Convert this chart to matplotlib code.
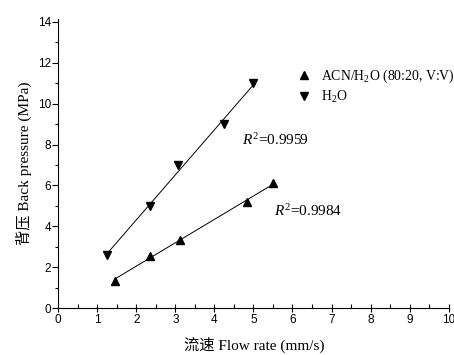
import numpy as np
import matplotlib.pyplot as plt
from matplotlib.ticker import MultipleLocator

# 数据
flow_acn = [1.45, 2.35, 3.12, 4.83, 5.5]
bp_acn = [1.35, 2.55, 3.35, 5.2, 6.1]
flow_h2o = [1.25, 2.35, 3.07, 4.25, 5.0]
bp_h2o = [2.6, 5.0, 7.0, 9.0, 11.0]
r2_acn = '0.9984'
r2_h2o = '0.9959'

serif = ['Liberation Serif', 'Noto Sans CJK SC']
plt.rcParams['font.family'] = ['Liberation Sans', 'DejaVu Sans']
plt.rcParams['mathtext.fontset'] = 'custom'
plt.rcParams['mathtext.it'] = 'Liberation Serif:italic'
plt.rcParams['mathtext.rm'] = 'Liberation Serif'

fig = plt.figure(figsize=(4.54, 3.55), dpi=100)
ax = fig.add_axes([0.128, 0.132, 0.862, 0.815])

# 拟合直线
for x, y in [(flow_acn, bp_acn), (flow_h2o, bp_h2o)]:
    k, b = np.polyfit(x, y, 1)
    xx = np.array([min(x), max(x)])
    ax.plot(xx, k * xx + b, color='black', linewidth=0.7)

ax.plot(flow_acn, bp_acn, linestyle='none', marker='^', color='black',
        markersize=5.5, label=r'ACN/H$_2$O (80:20, V:V)')
ax.plot(flow_h2o, bp_h2o, linestyle='none', marker='v', color='black',
        markersize=5.5, label=r'H$_2$O')

ax.text(4.72, 8.2, r'$R^2$=' + r2_h2o, fontsize=11, family=serif, va='center')
ax.text(5.53, 4.75, r'$R^2$=' + r2_acn, fontsize=11, family=serif, va='center')

ax.set_xlim(0, 10.02)
ax.set_ylim(0, 14.15)
ax.xaxis.set_major_locator(MultipleLocator(1))
ax.xaxis.set_minor_locator(MultipleLocator(0.5))
ax.yaxis.set_major_locator(MultipleLocator(2))
ax.yaxis.set_minor_locator(MultipleLocator(1))
ax.tick_params(axis='x', which='major', direction='inout', length=6, width=0.8, labelsize=8.5, pad=1)
ax.tick_params(axis='x', which='minor', direction='in', length=3, width=0.8)
ax.tick_params(axis='y', which='major', direction='out', length=4, width=0.8, labelsize=8.5, pad=1)
ax.tick_params(axis='y', which='minor', direction='out', length=2.5, width=0.8)

for s in ['top', 'right']:
    ax.spines[s].set_visible(False)
for s in ['left', 'bottom']:
    ax.spines[s].set_linewidth(0.8)

ax.set_xlabel('流速 Flow rate (mm/s)', fontsize=11, family=serif, labelpad=8)
ax.set_ylabel('背压 Back pressure (MPa)', fontsize=11, family=serif, labelpad=4)

ax.legend(loc='upper left', bbox_to_anchor=(0.588, 0.85), frameon=False,
          prop={'family': serif, 'size': 9.9}, handletextpad=0.5,
          labelspacing=0.3, handlelength=1.5, borderaxespad=0)

fig.savefig('out.png', dpi=100)
